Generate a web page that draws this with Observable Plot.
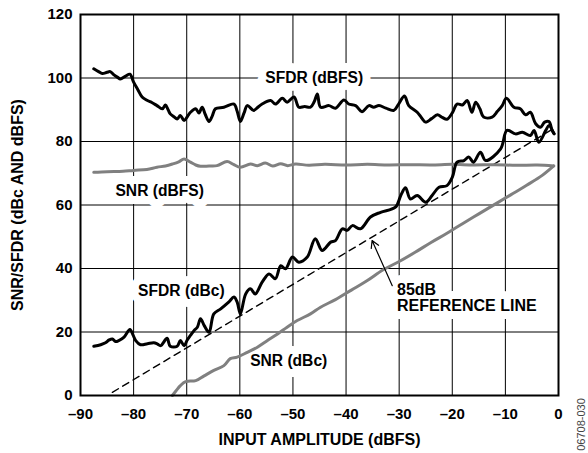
<!DOCTYPE html>
<html>
<head>
<meta charset="utf-8">
<script src="https://cdn.jsdelivr.net/npm/d3@7"></script>
<script src="https://cdn.jsdelivr.net/npm/@observablehq/plot@0.6"></script>
<style>
  html, body { margin: 0; padding: 0; background: #fff; }
</style>
</head>
<body>
<div id="chart"></div>
<script>
// ---- Data ----
const sfdrDbfsX = [-87.5,-86.6,-85.9,-85.0,-84.4,-83.7,-83.0,-82.5,-81.5,-80.7,-80,-79.2,-78.4,-77.4,-76.5,-75.6,-74.6,-74,-73.5,-73.1,-72.4,-71.8,-71.2,-70.5,-69.9,-69.3,-68.3,-67.7,-67.1,-66.5,-65.8,-65.2,-64.6,-63,-61.1,-60.5,-59.9,-59.2,-58.6,-57.4,-56.6,-55.8,-54.2,-53.3,-52,-51.1,-49.8,-48.9,-47.8,-46.7,-46.0,-45.4,-44.8,-43.2,-42,-40.4,-39.5,-38.2,-37,-35.7,-34.8,-33.8,-32.5,-31,-30.1,-29,-28.2,-26.6,-25.8,-25,-23.9,-22.8,-21.9,-21,-20,-19.1,-18.1,-17.2,-16.3,-15.6,-14.8,-14.1,-12.5,-11.5,-10.6,-9.8,-8.4,-7.2,-6.2,-5.3,-4.3,-3.4,-2.6,-1.8,-1.2,-0.8];
const sfdrDbfsY = [102.9,102.0,101.4,101.8,102.0,101.0,100.2,99.7,100.6,101.2,98.7,96.3,94,92.9,92.2,91.3,90.3,91.5,90.0,88.7,87.8,87.1,88.2,86.6,87.8,89.2,90.3,89,90.8,88.5,86.3,88.0,90.3,90.8,91.8,89.5,86.3,89.0,91.3,89.8,90.8,91.8,92.9,91.8,93.6,92.4,94,90.8,91.0,90.8,92.5,95,90.8,91.3,90.5,93.1,91.8,91.3,89.4,91.3,90.8,91.3,90.5,89.8,91.8,94.3,91.3,89.2,87.5,86.1,87.2,88.4,87.6,87,89,91.8,91.5,92.9,89.2,92.4,90.3,87.7,87.7,89.5,91.3,93.6,90.8,90.3,88.4,89.2,85.6,84.5,86.1,86.3,83.5,82.4];

const sfdrDbcX = [-87.5,-86.2,-85.3,-84.6,-84,-83.4,-82.8,-81.8,-80.7,-80.1,-79.6,-78.7,-77.4,-76.2,-75.5,-74.9,-73.7,-73.1,-71.8,-71.2,-70.5,-69.9,-69.3,-68.6,-68,-67.4,-66.7,-65.8,-64.9,-63.6,-62.1,-61.1,-60.5,-59.9,-58.9,-58,-57.1,-55.8,-54.5,-53.3,-52.3,-51.4,-50.1,-48.9,-47.3,-45.8,-44.5,-42.9,-42,-40.7,-39.8,-38.8,-37.3,-35.4,-33.5,-30.7,-29.7,-28.8,-27.9,-26.6,-25,-23.8,-22.5,-21,-20,-19.1,-17.8,-16.9,-16,-14.7,-13.7,-10.9,-9.7,-8.1,-6.8,-5.3,-4.6,-3.7,-2.4,-1.8,-0.9];
const sfdrDbcY = [15.5,16,16.6,17.5,17.8,17.0,17.3,18.4,20.8,19.0,17.3,16,16.3,16.6,16.2,15.7,18,15.5,15.5,17.3,15.7,17.5,18.9,20.5,21.5,24.2,22,19.9,25.7,27.3,29.4,31,29.4,25.7,32,33.6,32,35.7,38.3,36.8,40.9,39.9,43.6,42,43.6,49.4,45.7,48.3,48.8,52.5,52,53.5,52.5,56.2,57.7,59.3,63,65.4,61.9,63,60.9,63,65.6,66.1,68.7,73.5,74,75.1,73.5,76.6,74,77.7,83.5,82.4,82.9,81.9,83.5,79.8,83.5,85,82.6];

const snrDbfsX = [-87.5,-85,-82,-80,-77.5,-75.6,-74,-72.7,-71.5,-70.5,-69.3,-68.3,-67.4,-65.8,-64.3,-62.4,-61.2,-59.9,-58,-56.7,-55.2,-53.8,-52.3,-51,-49.5,-47,-44,-40,-36,-32,-28,-24,-20,-16,-12,-8,-4,-0.9];
const snrDbfsY = [70.3,70.5,70.6,70.9,71.2,71.9,72.3,72.9,73.6,74.5,73.5,72.6,72.2,72.3,72.4,73.7,72.8,71.9,72.9,72.4,73.2,72.3,73.0,72.4,72.9,72.5,72.8,72.6,72.8,72.6,72.7,72.6,72.8,72.6,72.7,72.5,72.6,72.3];

const snrDbcX = [-72.7,-72.0,-71.2,-70.2,-68.3,-66.8,-64.9,-63,-61.8,-60.5,-58.6,-56.7,-54.8,-52.9,-51.1,-49.2,-46.7,-44.8,-42,-39,-36,-33,-30,-27,-24,-21,-18,-15,-12,-9,-6,-3,-0.9];
const snrDbcY = [0,1.5,3.1,4.4,4.7,6.1,7.9,9.4,11.6,12.1,13.6,15.2,17.3,19.4,21.5,23.6,25.7,27.8,30.2,33.2,36.2,39.6,42.2,45.1,48.2,51.1,54.2,57.2,60.2,63.2,66.2,69.4,72.3];

// 85 dB reference line end points
const refX = [-84, -1.5];
const refY = [1, 83.5];

// Axis ticks
const xTicks = [-90, -80, -70, -60, -50, -40, -30, -20, -10, 0];
const yTicks = [0, 20, 40, 60, 80, 100, 120];

// Curve labels (data units)
const labelText = ["SFDR (dBFS)", "SNR (dBFS)", "SFDR (dBc)", "SNR (dBc)"];
const labelX = [-46, -75.1, -71.0, -50.8];
const labelY = [100, 64.3, 32.8, 11.0];

// Reference-line annotation
const refLabelText = ["85dB", "REFERENCE LINE"];
const refLabelX = [-30.4, -30.4];
const refLabelY = [33.2, 28.2];
const arrowFrom = [-31.3, 34.6];
const arrowTo = [-35.1, 48.8];

// ---- Build tables ----
const toRows = (xs, ys) => xs.map((x, i) => ({x, y: ys[i]}));
const sfdrDbfs = toRows(sfdrDbfsX, sfdrDbfsY);
const sfdrDbc = toRows(sfdrDbcX, sfdrDbcY);
const snrDbfs = toRows(snrDbfsX, snrDbfsY);
const snrDbc = toRows(snrDbcX, snrDbcY);
const refLine = toRows(refX, refY);
const labels = labelText.map((t, i) => ({t, x: labelX[i], y: labelY[i]}));
const refLabels = refLabelText.map((t, i) => ({t, x: refLabelX[i], y: refLabelY[i]}));

const fmtX = d => d === 0 ? "0" : "\u2013" + Math.abs(d);
const FONT = "'Liberation Sans', Arial, Helvetica, sans-serif";

const labelOpts = {x: "x", y: "y", text: "t", fontSize: 15.6, fontWeight: "bold"};
const refLabelOpts = {x: "x", y: "y", text: "t", textAnchor: "start", fontSize: 16, fontWeight: "bold"};
const halo = {fill: "#fff", stroke: "#fff", strokeWidth: 16, strokeLinejoin: "round"};

const chart = Plot.plot({
  width: 588,
  height: 453,
  marginLeft: 80,
  marginRight: 30,
  marginTop: 14,
  marginBottom: 58,
  style: {fontFamily: FONT, fontSize: "15px", fontWeight: "bold", color: "#000", background: "#fff"},
  x: {domain: [-90, 0]},
  y: {domain: [0, 120]},
  marks: [
    Plot.gridX(xTicks, {stroke: "#000", strokeOpacity: 1, strokeWidth: 1}),
    Plot.gridY(yTicks, {stroke: "#000", strokeOpacity: 1, strokeWidth: 1}),
    // white knock-outs behind labels (break the grid like the original)
    Plot.text(labels, {...labelOpts, ...halo}),
    Plot.text(refLabels, {...refLabelOpts, ...halo}),
    Plot.text(labels, {...labelOpts, fill: "#000"}),
    Plot.text(refLabels, {...refLabelOpts, fill: "#000"}),
    Plot.line(refLine, {x: "x", y: "y", stroke: "#000", strokeWidth: 1.4, strokeDasharray: "7,5"}),
    Plot.line(snrDbc, {x: "x", y: "y", stroke: "#808080", strokeWidth: 3, curve: "catmull-rom"}),
    Plot.line(snrDbfs, {x: "x", y: "y", stroke: "#808080", strokeWidth: 3, curve: "catmull-rom"}),
    Plot.line(sfdrDbc, {x: "x", y: "y", stroke: "#000", strokeWidth: 3, curve: "catmull-rom"}),
    Plot.line(sfdrDbfs, {x: "x", y: "y", stroke: "#000", strokeWidth: 3, curve: "catmull-rom"}),
    Plot.arrow([0], {x1: () => arrowFrom[0], y1: () => arrowFrom[1], x2: () => arrowTo[0], y2: () => arrowTo[1],
      stroke: "#000", strokeWidth: 1.2, headLength: 10}),
    Plot.frame({stroke: "#000", strokeWidth: 2}),
    Plot.axisX(xTicks, {tickSize: 0, tickPadding: 13, tickFormat: fmtX, fontSize: 15, fontWeight: "bold", label: null}),
    Plot.axisY(yTicks, {tickSize: 0, tickPadding: 8, fontSize: 15, fontWeight: "bold", label: null}),
    Plot.text(["INPUT AMPLITUDE (dBFS)"], {frameAnchor: "bottom", textAnchor: "middle", lineAnchor: "middle", dy: 44, fontSize: 16, fontWeight: "bold"}),
    Plot.text(["SNR/SFDR (dBc AND dBFS)"], {frameAnchor: "left", textAnchor: "middle", lineAnchor: "middle", rotate: -90, dx: -63, fontSize: 16, fontWeight: "bold"}),
    Plot.text(["06708-030"], {frameAnchor: "bottom-right", textAnchor: "middle", lineAnchor: "middle", rotate: -90, dx: 23, dy: 29, fontSize: 11, fontWeight: "normal", fill: "#444"})
  ]
});
document.getElementById("chart").appendChild(chart);
</script>
</body>
</html>
